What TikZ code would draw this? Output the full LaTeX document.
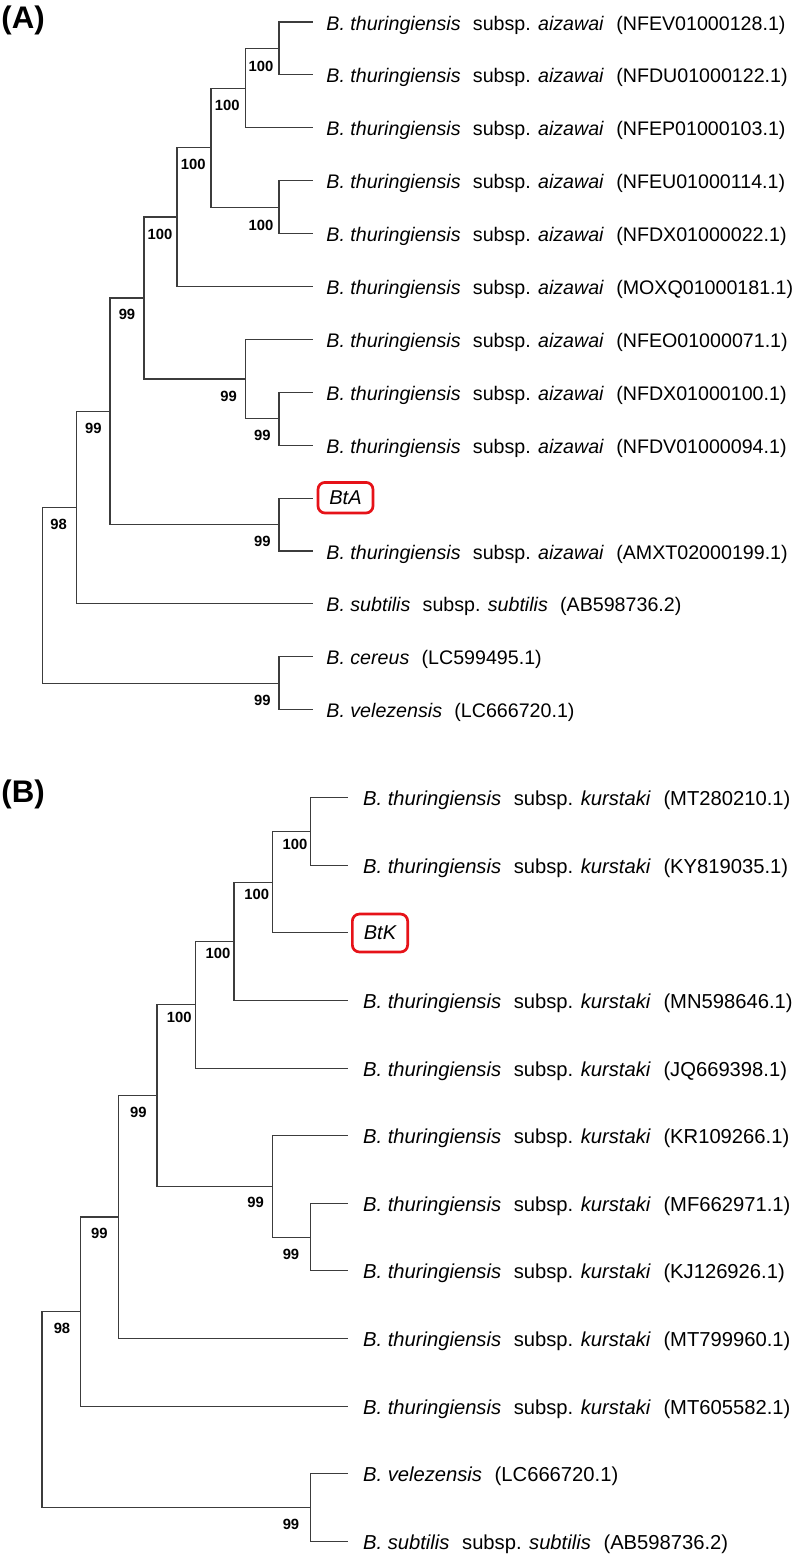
\documentclass[tikz,border=0pt]{standalone}
\usepackage{fontspec}
\setmainfont{Liberation Sans}
\definecolor{queryred}{RGB}{230,18,24}
\definecolor{branchgray}{RGB}{60,60,60}
\newcommand{\taxGap}{\hspace{0.625em}}
\newcommand{\btAiz}[1]{\textit{B. thuringiensis}\taxGap subsp. \textit{aizawai}\taxGap(#1)}
\newcommand{\btKur}[1]{\textit{B. thuringiensis}\taxGap subsp. \textit{kurstaki}\taxGap(#1)}
\newcommand{\bsSub}[1]{\textit{B. subtilis}\taxGap subsp. \textit{subtilis}\taxGap(#1)}
\tikzset{
  branch/.style={draw=branchgray, line width=0.55pt},
  taxon/.style={anchor=base west, inner sep=0pt, font=\fontsize{9.82}{12}\selectfont},
  taxonB/.style={taxon, font=\fontsize{10.1}{12}\selectfont},
  boot/.style={inner sep=0pt, font=\bfseries\fontsize{7.4}{8}\selectfont},
  panel/.style={anchor=base west, inner sep=0pt, font=\bfseries\fontsize{15.6}{18}\selectfont},
  query/.style={draw=queryred, line width=1.35pt, rounded corners=3.5pt, inner sep=0pt,
    font=\fontsize{10}{12}\selectfont\itshape}
}

\begin{document}
\begin{tikzpicture}[x=0.5pt,y=-0.5pt]
\useasboundingbox (0,0) rectangle (800,1555);

% ---- (A) aizawai tree
\node[panel] (labA) at (1,28) {(A)};
\coordinate (a1) at (313,22.0);
\coordinate (a2) at (313,74.9);
\coordinate (a3) at (313,127.8);
\coordinate (a4) at (313,180.7);
\coordinate (a5) at (313,233.6);
\coordinate (a6) at (313,286.5);
\coordinate (a7) at (313,339.4);
\coordinate (a8) at (313,392.3);
\coordinate (a9) at (313,445.2);
\coordinate (a10) at (313,498.1);
\coordinate (a11) at (313,551.0);
\coordinate (a12) at (313,603.9);
\coordinate (a13) at (313,656.8);
\coordinate (a14) at (313,709.7);
\coordinate (nA1) at (279,48.5);
\coordinate (nA2) at (245.7,88.1);
\coordinate (nA3) at (279,207.2);
\coordinate (nA4) at (211,147.6);
\coordinate (nA5) at (177,217);
\coordinate (nA6) at (279,418.7);
\coordinate (nA7) at (245.7,379);
\coordinate (nA8) at (144,298);
\coordinate (nA9) at (279,524.5);
\coordinate (nA10) at (110,411.3);
\coordinate (nA11) at (76.3,507.6);
\coordinate (nA12) at (279,683.3);
\coordinate (nA0) at (42.3,595.4);
\foreach \p/\c in {nA1/a1,nA1/a2,nA2/nA1,nA2/a3,nA3/a4,nA3/a5,nA4/nA2,nA4/nA3,
  nA5/nA4,nA5/a6,nA6/a8,nA6/a9,nA7/a7,nA7/nA6,nA8/nA5,nA8/nA7,nA9/a10,nA9/a11,
  nA10/nA8,nA10/nA9,nA11/nA10,nA11/a12,nA12/a13,nA12/a14,nA0/nA11,nA0/nA12}
  \draw[branch] (\p) |- (\c);
\node[taxon] (tA1) at (326,30.0) {\btAiz{NFEV01000128.1}};
\node[taxon] (tA2) at (326,82.9) {\btAiz{NFDU01000122.1}};
\node[taxon] (tA3) at (326,135.8) {\btAiz{NFEP01000103.1}};
\node[taxon] (tA4) at (326,188.7) {\btAiz{NFEU01000114.1}};
\node[taxon] (tA5) at (326,241.6) {\btAiz{NFDX01000022.1}};
\node[taxon] (tA6) at (326,294.5) {\btAiz{MOXQ01000181.1}};
\node[taxon] (tA7) at (326,347.4) {\btAiz{NFEO01000071.1}};
\node[taxon] (tA8) at (326,400.3) {\btAiz{NFDX01000100.1}};
\node[taxon] (tA9) at (326,453.2) {\btAiz{NFDV01000094.1}};
\node[query, minimum width=27.5pt, minimum height=15.3pt] (tA10) at (345.5,497.7) {BtA\hspace{2.5pt}};
\node[taxon] (tA11) at (326,559.0) {\btAiz{AMXT02000199.1}};
\node[taxon] (tA12) at (326,611.9) {\bsSub{AB598736.2}};
\node[taxon] (tA13) at (326,664.8) {\textit{B. cereus}\taxGap(LC599495.1)};
\node[taxon] (tA14) at (326,717.7) {\textit{B. velezensis}\taxGap(LC666720.1)};
\node[boot] (bA1) at (261,66) {100};
\node[boot] (bA2) at (227.3,105.3) {100};
\node[boot] (bA4) at (193.3,164.3) {100};
\node[boot] (bA3) at (261,225) {100};
\node[boot] (bA5) at (160,234.3) {100};
\node[boot] (bA8) at (127,314.3) {99};
\node[boot] (bA7) at (228.7,396) {99};
\node[boot] (bA6) at (262.3,435.3) {99};
\node[boot] (bA10) at (93.3,428.3) {99};
\node[boot] (bA9) at (262.3,541.7) {99};
\node[boot] (bA11) at (58.7,524.3) {98};
\node[boot] (bA12) at (262.3,700) {99};

% ---- (B) kurstaki tree
\node[panel] (labB) at (1,802) {(B)};
\coordinate (b1) at (348.3,797.7);
\coordinate (b2) at (348.3,865.3);
\coordinate (b3) at (348.3,932.9);
\coordinate (b4) at (348.3,1000.5);
\coordinate (b5) at (348.3,1068.1);
\coordinate (b6) at (348.3,1135.7);
\coordinate (b7) at (348.3,1203.3);
\coordinate (b8) at (348.3,1270.9);
\coordinate (b9) at (348.3,1338.5);
\coordinate (b10) at (348.3,1406.1);
\coordinate (b11) at (348.3,1473.7);
\coordinate (b12) at (348.3,1541.3);
\coordinate (nB1) at (310.3,831.5);
\coordinate (nB2) at (272.3,882.2);
\coordinate (nB3) at (234,941.4);
\coordinate (nB4) at (195.3,1004.8);
\coordinate (nB5) at (310.3,1237.1);
\coordinate (nB6) at (272.3,1186.4);
\coordinate (nB7) at (157,1095.6);
\coordinate (nB8) at (118.7,1217);
\coordinate (nB9) at (80.3,1311.6);
\coordinate (nB10) at (310.3,1507.5);
\coordinate (nB0) at (42,1409.5);
\foreach \p/\c in {nB1/b1,nB1/b2,nB2/nB1,nB2/b3,nB3/nB2,nB3/b4,nB4/nB3,nB4/b5,
  nB5/b7,nB5/b8,nB6/b6,nB6/nB5,nB7/nB4,nB7/nB6,nB8/nB7,nB8/b9,nB9/nB8,nB9/b10,
  nB10/b11,nB10/b12,nB0/nB9,nB0/nB10}
  \draw[branch] (\p) |- (\c);
\node[taxonB] (tB1) at (362.7,805.7) {\btKur{MT280210.1}};
\node[taxonB] (tB2) at (362.7,873.3) {\btKur{KY819035.1}};
\node[query, minimum width=27.65pt, minimum height=18.95pt] (tB3) at (380,933) {BtK};
\node[taxonB] (tB4) at (362.7,1008.5) {\btKur{MN598646.1}};
\node[taxonB] (tB5) at (362.7,1076.1) {\btKur{JQ669398.1}};
\node[taxonB] (tB6) at (362.7,1143.7) {\btKur{KR109266.1}};
\node[taxonB] (tB7) at (362.7,1211.3) {\btKur{MF662971.1}};
\node[taxonB] (tB8) at (362.7,1278.9) {\btKur{KJ126926.1}};
\node[taxonB] (tB9) at (362.7,1346.5) {\btKur{MT799960.1}};
\node[taxonB] (tB10) at (362.7,1414.1) {\btKur{MT605582.1}};
\node[taxonB] (tB11) at (362.7,1481.7) {\textit{B. velezensis}\taxGap(LC666720.1)};
\node[taxonB] (tB12) at (362.7,1549.3) {\bsSub{AB598736.2}};
\node[boot] (bB1) at (295,844.3) {100};
\node[boot] (bB2) at (256.7,894.7) {100};
\node[boot] (bB3) at (218,953.7) {100};
\node[boot] (bB4) at (179.3,1017.7) {100};
\node[boot] (bB7) at (138.3,1112) {99};
\node[boot] (bB6) at (255.7,1202.3) {99};
\node[boot] (bB5) at (291,1254) {99};
\node[boot] (bB8) at (99.3,1233.7) {99};
\node[boot] (bB9) at (62,1328.7) {98};
\node[boot] (bB10) at (291,1524.3) {99};
\end{tikzpicture}
\end{document}
